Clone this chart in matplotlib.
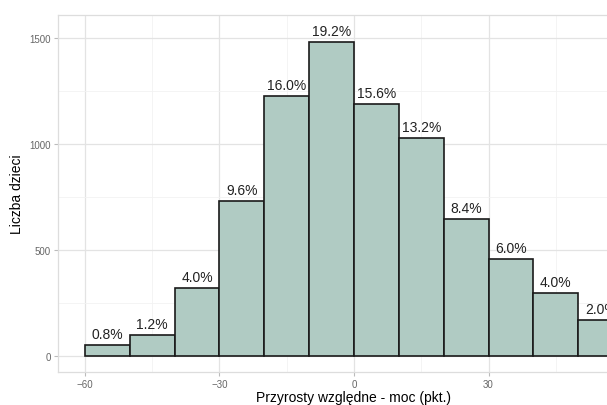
import numpy as np
import matplotlib
matplotlib.use('Agg')
import matplotlib.pyplot as plt
from matplotlib.ticker import MultipleLocator

# bin edges (pkt.) and counts
bin_left = [-60, -50, -40, -30, -20, -10, 0, 10, 20, 30, 40, 50]
counts = [52, 99, 321, 731, 1226, 1481, 1189, 1028, 646, 458, 297, 170]
pct_labels = ['0.8%', '1.2%', '4.0%', '9.6%', '16.0%', '19.2%',
              '15.6%', '13.2%', '8.4%', '6.0%', '4.0%', '2.0%']
x_ticks = [-60, -30, 0, 30]
bin_width = 10

W, H = 607, 406
fig = plt.figure(figsize=(W / 100, H / 100), dpi=100)
# panel runs past the right edge of the picture, as in the original crop
ax = fig.add_axes([58 / W, 33 / H, (650 - 58) / W, (373 - 16) / H])

ax.set_axisbelow(True)
ax.set_xticks(x_ticks)
ax.xaxis.set_minor_locator(MultipleLocator(15))
ax.yaxis.set_major_locator(MultipleLocator(500))
ax.yaxis.set_minor_locator(MultipleLocator(250))
ax.grid(which='major', color='#e3e3e3', linewidth=0.9)
ax.grid(which='minor', color='#f2f2f2', linewidth=0.6)

centers = np.array(bin_left) + bin_width / 2
ax.bar(centers, counts, width=bin_width, color='#b0cbc3',
       edgecolor='#1a1a1a', linewidth=1.2, zorder=2)

for x, c, lab in zip(centers, counts, pct_labels):
    ax.annotate(lab, (x, c), xytext=(0, 3), textcoords='offset points',
                ha='center', va='bottom', fontsize=10, color='#222222',
                family='Liberation Sans', zorder=3)

ax.set_xlim(-66, 66)
ax.set_ylim(-75, 1608)

for s in ax.spines.values():
    s.set_color('#dddddd')
    s.set_linewidth(0.9)

ax.tick_params(which='major', length=3, color='#bbbbbb', labelsize=7,
               labelcolor='#666666', pad=2)
ax.tick_params(which='minor', length=0)
for t in ax.get_xticklabels() + ax.get_yticklabels():
    t.set_family('Liberation Sans')

ax.set_xlabel('Przyrosty względne - moc (pkt.)', fontsize=10,
              family='Liberation Sans')
ax.set_ylabel('Liczba dzieci', fontsize=10, family='Liberation Sans')
ax.xaxis.set_label_coords((354 - 58) / (650 - 58), -0.05)
ax.yaxis.set_label_coords(-0.058, 0.5)

fig.savefig('out.png', dpi=100)
